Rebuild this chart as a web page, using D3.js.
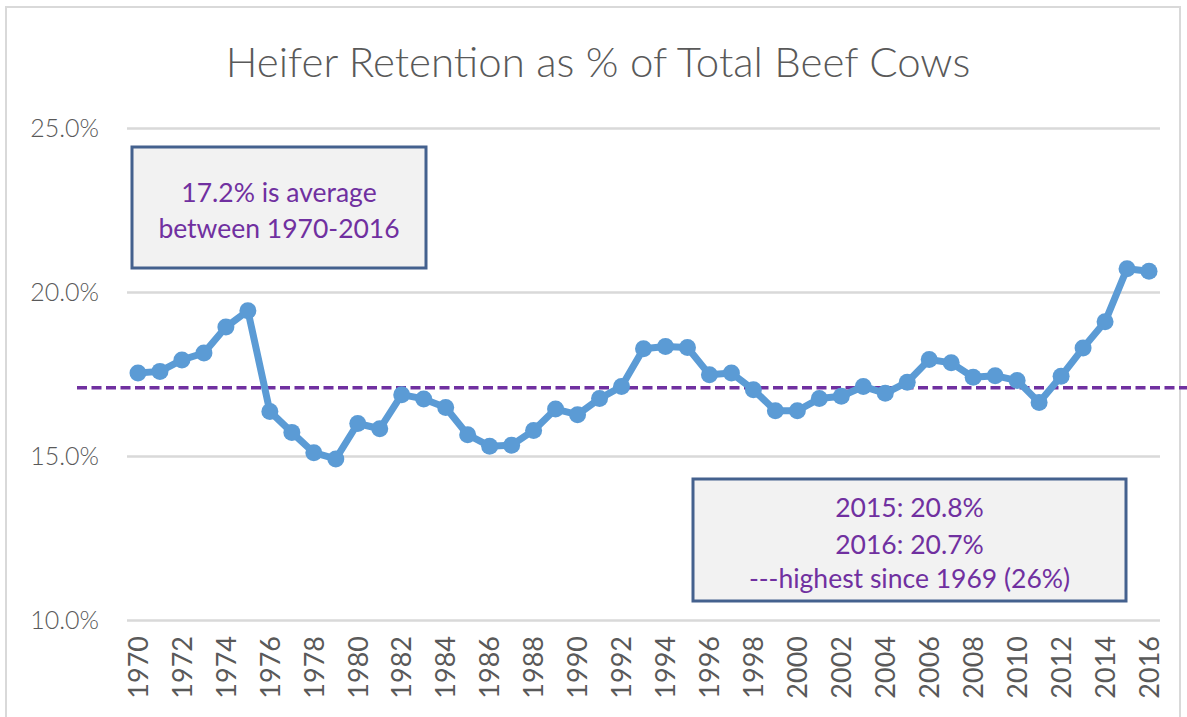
<!DOCTYPE html>
<html>
<head>
<meta charset="utf-8">
<script src="https://cdn.jsdelivr.net/npm/d3@7"></script>
<style>
  body { margin: 0; background: #fff; }
  svg { display: block; font-family: Lato, 'Open Sans', sans-serif; }
</style>
</head>
<body>
<svg id="chart" width="1187" height="717"></svg>
<script>
var title = 'Heifer Retention as % of Total Beef Cows'

var years = d3.range(1970, 2017)
var retention = [
  17.53, 17.58, 17.93, 18.14, 18.93, 19.43, 16.36, 15.72, 15.10, 14.91,
  15.99, 15.83, 16.87, 16.74, 16.48, 15.65, 15.30, 15.33, 15.78, 16.43,
  16.26, 16.75, 17.12, 18.27, 18.34, 18.31, 17.48, 17.53, 17.02, 16.38,
  16.38, 16.75, 16.82, 17.12, 16.91, 17.25, 17.94, 17.84, 17.40, 17.45,
  17.30, 16.63, 17.43, 18.29, 19.09, 20.71, 20.63
]
var yTicks = [10, 15, 20, 25]
var xTickYears = years.filter(d => d % 2 == 0)
var avgLine = 17.08

var noteAvg = ['17.2% is average', 'between 1970-2016']
var noteRecent = ['2015: 20.8%', '2016: 20.7%', '---highest since 1969 (26%)']

var svg = d3.select('#chart')
var W = 1187, H = 717

// outer chart frame
svg.append('rect')
  .attr('x', 6).attr('y', 7).attr('width', 1174).attr('height', 720)
  .attr('fill', '#fff').attr('stroke', '#d9d9d9').attr('stroke-width', 2)

var x = d3.scaleBand().domain(years).range([127, 1160])
var y = d3.scaleLinear().domain([10, 25]).range([620, 128])
var cx = d => x(d) + x.bandwidth()/2

svg.append('text').text(title)
  .attr('x', 598).attr('y', 77)
  .attr('text-anchor', 'middle')
  .attr('font-size', 42).attr('font-weight', 300)
  .attr('fill', '#595959')

// gridlines + y labels
var yAxis = svg.append('g').attr('transform', 'translate(127,0)')
  .call(d3.axisLeft(y).tickValues(yTicks).tickSize(-1033).tickFormat(d => d.toFixed(1) + '%'))
yAxis.select('.domain').remove()
yAxis.selectAll('line').attr('stroke', '#d9d9d9').attr('stroke-width', 2.5)
yAxis.selectAll('text')
  .attr('x', -28).attr('font-size', 25).attr('font-weight', 300)
  .attr('fill', '#595959').attr('font-family', 'Lato, sans-serif')

// x labels
var xAxis = svg.append('g').attr('transform', 'translate(0,620)')
  .call(d3.axisBottom(x).tickValues(xTickYears).tickSize(0).tickFormat(d3.format('d')))
xAxis.select('.domain').remove()
xAxis.selectAll('text')
  .attr('transform', 'rotate(-90)')
  .attr('x', -16).attr('y', 0).attr('dy', '0.36em')
  .attr('text-anchor', 'end')
  .attr('font-size', 27).attr('font-family', 'Lato, sans-serif')
  .attr('fill', '#595959')

// average line
svg.append('line')
  .attr('x1', 77).attr('x2', W)
  .attr('y1', y(avgLine)).attr('y2', y(avgLine))
  .attr('stroke', '#7030a0').attr('stroke-width', 3.5)
  .attr('stroke-dasharray', '10,4.5')

// series
var line = d3.line().x((d, i) => cx(years[i])).y(d => y(d))
svg.append('path').datum(retention)
  .attr('d', line)
  .attr('fill', 'none').attr('stroke', '#5b9bd5')
  .attr('stroke-width', 7).attr('stroke-linejoin', 'round')

svg.append('g').selectAll('circle').data(retention).join('circle')
  .attr('cx', (d, i) => cx(years[i])).attr('cy', d => y(d))
  .attr('r', 8.5).attr('fill', '#5b9bd5')

// annotation boxes
function note(lines, x0, y0, w, h, baselines){
  var g = svg.append('g')
  g.append('rect')
    .attr('x', x0).attr('y', y0).attr('width', w).attr('height', h)
    .attr('fill', '#f2f2f2').attr('stroke', '#44618e').attr('stroke-width', 3)
  g.selectAll('text').data(lines).join('text')
    .text(d => d)
    .attr('x', x0 + w/2).attr('y', (d, i) => baselines[i])
    .attr('text-anchor', 'middle')
    .attr('font-size', 26.5).attr('fill', '#7030a0')
}

note(noteAvg, 132, 147, 294, 121, [202, 238])
note(noteRecent, 693, 479, 433, 122, [517, 554, 588])
</script>
</body>
</html>
